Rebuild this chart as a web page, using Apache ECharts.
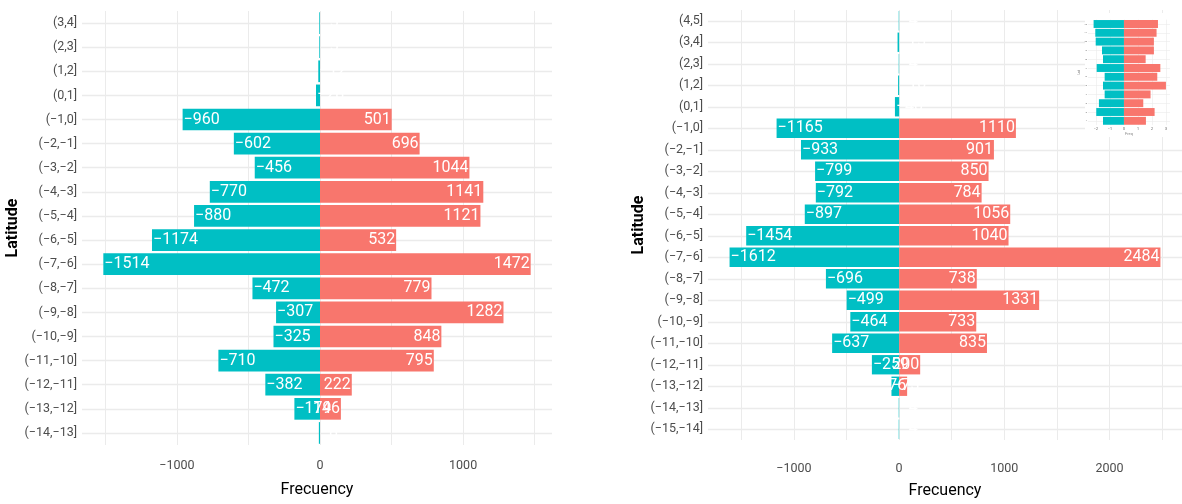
<!DOCTYPE html>
<html>
<head>
<meta charset="utf-8">
<style>
html,body{margin:0;padding:0;background:#fff;}
#chart{width:1182px;height:504px;}
</style>
<script src="https://cdn.jsdelivr.net/npm/echarts@6/dist/echarts.min.js"></script>
</head>
<body>
<div id="chart"></div>
<script>
// ---------- data ----------
const leftCats = ['(3,4]','(2,3]','(1,2]','(0,1]','(−1,0]','(−2,−1]','(−3,−2]','(−4,−3]','(−5,−4]','(−6,−5]','(−7,−6]','(−8,−7]','(−9,−8]','(−10,−9]','(−11,−10]','(−12,−11]','(−13,−12]','(−14,−13]'];
const leftNeg = [-5,-5,-12,-28,-960,-602,-456,-770,-880,-1174,-1514,-472,-307,-325,-710,-382,-179,-8];
const leftPos = [0,0,0,0,501,696,1044,1141,1121,532,1472,779,1282,848,795,222,146,0];

const rightCats = ['(4,5]','(3,4]','(2,3]','(1,2]','(0,1]','(−1,0]','(−2,−1]','(−3,−2]','(−4,−3]','(−5,−4]','(−6,−5]','(−7,−6]','(−8,−7]','(−9,−8]','(−10,−9]','(−11,−10]','(−12,−11]','(−13,−12]','(−14,−13]','(−15,−14]'];
const rightNeg = [-4,-15,-4,-10,-40,-1165,-933,-799,-792,-897,-1454,-1612,-696,-499,-464,-637,-259,-73,-4,-4];
const rightPos = [0,0,0,0,0,1110,901,850,784,1056,1040,2484,738,1331,733,835,200,76,0,0];

const leftGridVals = [-1500,-1000,-500,0,500,1000,1500];
const leftTickVals = [-1000,0,1000];
const rightGridVals = [-1500,-1000,-500,0,500,1000,1500,2000,2500];
const rightTickVals = [-1000,0,1000,2000];

// small inset chart (top-right)
const insetCats = ['12','11','10','9','8','7','6','5','4','3','2','1'];
const insetNeg = [-2.17,-2.05,-2.02,-1.57,-1.5,-1.95,-1.38,-1.5,-1.38,-1.79,-1.98,-1.5];
const insetPos = [2.43,2.33,2.14,2.14,1.55,2.6,2.38,3.0,1.9,1.38,2.19,1.57];
const insetGridVals = [-2,-1,0,1,2,3];
const insetTickVals = [-2,-1,0,1,2,3];

// ---------- styling ----------
const TEAL = '#00BFC4', RED = '#F8766D';
const FONT = "Roboto,'Liberation Sans',sans-serif";
const GRIDC = '#EBEBEB';
const fmtNum = v => (v < 0 ? '\u2212' + Math.abs(v) : String(v));

function xAxisDef(idx, min, max, gridVals, tickVals, fs, nameGap, margin, z) {
  return {
    type: 'value', gridIndex: idx, min: min, max: max,
    name: idx === 2 ? 'Freq' : 'Frecuency', nameLocation: 'middle', nameGap: nameGap,
    nameTextStyle: {fontFamily: FONT, fontSize: idx === 2 ? 4 : 16, color: idx === 2 ? '#888' : '#000'},
    axisLine: {show: false},
    axisTick: {show: false, customValues: gridVals},
    axisLabel: {customValues: tickVals, formatter: fmtNum, fontFamily: FONT, fontSize: fs, color: '#4D4D4D', margin: margin},
    splitLine: {show: true, lineStyle: {color: GRIDC, width: idx === 2 ? 0.6 : 1}},
    z: z
  };
}
function yAxisDef(idx, cats, fs, nameGap, margin, z) {
  return {
    type: 'category', gridIndex: idx, data: cats, inverse: true,
    name: idx === 2 ? 'Lat' : 'Latitude', nameLocation: 'middle', nameGap: nameGap, nameRotate: 90,
    nameTextStyle: {fontFamily: FONT, fontSize: idx === 2 ? 3 : 16, fontWeight: 'bold', color: idx === 2 ? '#888' : '#000'},
    axisLine: {show: false}, axisTick: {show: false},
    axisLabel: {fontFamily: FONT, fontSize: fs, color: '#4D4D4D', margin: margin},
    splitLine: {show: true, alignWithLabel: true, lineStyle: {color: GRIDC, width: idx === 2 ? 0.6 : 1.3}},
    z: z
  };
}
function barPair(idx, neg, pos, fs, z, showLabel) {
  return [
    {
      type: 'bar', xAxisIndex: idx, yAxisIndex: idx, data: neg, barWidth: '90%', barGap: '-100%', z: z,
      itemStyle: {color: TEAL},
      label: {show: showLabel, position: 'insideLeft', distance: 1, color: '#fff', fontFamily: FONT, fontSize: fs,
              formatter: p => fmtNum(p.value)}
    },
    {
      type: 'bar', xAxisIndex: idx, yAxisIndex: idx, data: pos, barWidth: '90%', barGap: '-100%', z: z,
      itemStyle: {color: RED},
      label: {show: showLabel, position: 'insideRight', distance: 1, color: '#fff', fontFamily: FONT, fontSize: fs,
              formatter: p => (p.value === 0 ? '' : fmtNum(p.value))}
    }
  ];
}

const chart = echarts.init(document.getElementById('chart'), null, {renderer: 'canvas'});
chart.setOption({
  backgroundColor: '#fff',
  animation: false,
  grid: [
    {left: 82, top: 11, width: 470, height: 434},
    {left: 708, top: 10, width: 477, height: 443},
    {left: 1088, top: 19.6, width: 82, height: 105.6, z: 3}
  ],
  graphic: [
    {type: 'rect', shape: {x: 1085, y: 13, width: 97, height: 124}, style: {fill: '#fff'}, z: 1}
  ],
  xAxis: [
    xAxisDef(0, -1663, 1621, leftGridVals, leftTickVals, 12.5, 37, 14, 0),
    xAxisDef(1, -1817, 2689, rightGridVals, rightTickVals, 12.5, 43, 22, 0),
    xAxisDef(2, -2.57, 3.29, insetGridVals, insetTickVals, 3.5, 7, 2, 3)
  ],
  yAxis: [
    yAxisDef(0, leftCats, 12.5, 59, 5, 0),
    yAxisDef(1, rightCats, 12.5, 60, 5, 0),
    yAxisDef(2, insetCats, 2.5, 6, 1, 3)
  ],
  series: [].concat(
    barPair(0, leftNeg, leftPos, 16, 2, true),
    barPair(1, rightNeg, rightPos, 16, 2, true),
    barPair(2, insetNeg, insetPos, 3, 4, false)
  )
});
</script>
</body>
</html>
